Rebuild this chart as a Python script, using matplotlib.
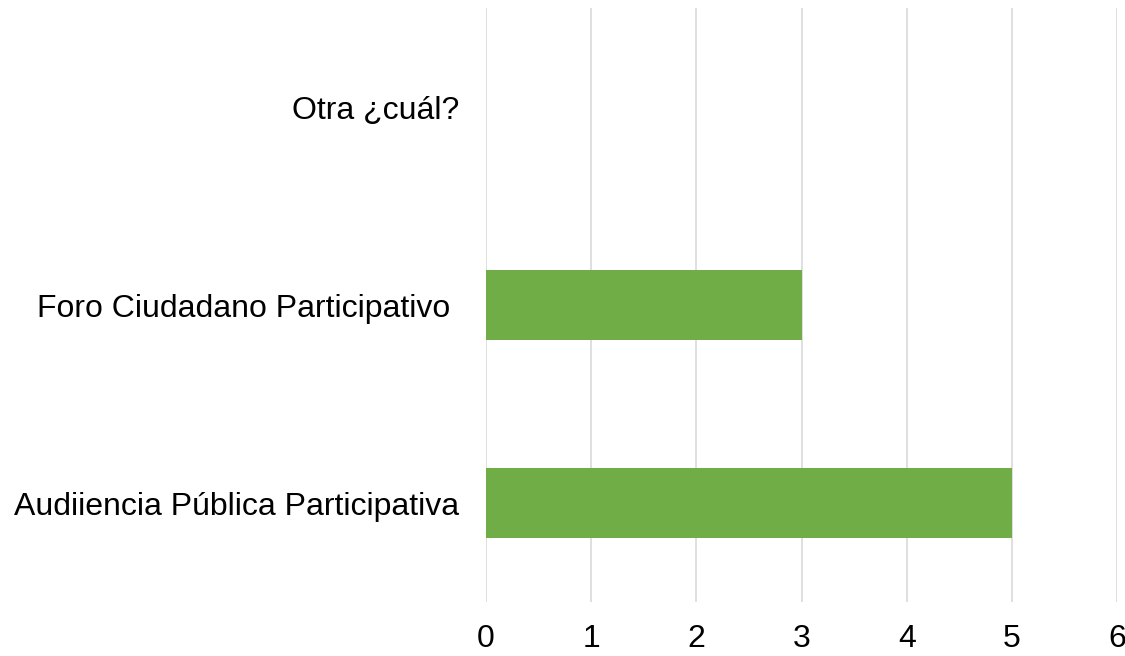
import matplotlib.pyplot as plt

categories = ["Audiiencia Pública Participativa", "Foro Ciudadano Participativo ", "Otra ¿cuál?"]
values = [5, 3, 0]
ticks = [0, 1, 2, 3, 4, 5, 6]

plt.rcParams['font.family'] = ['Liberation Sans', 'DejaVu Sans']

fig = plt.figure(figsize=(11.25, 6.56), dpi=100)
ax = fig.add_axes([0.432, 0.0823, 0.561, 0.9055])

ax.barh(categories, values, height=0.355, color="#70ad47", zorder=3)
ax.set_xlim(0, 6)
ax.set_ylim(-0.5, 2.5)
ax.set_xticks(ticks)
ax.grid(axis="x", color="#d9d9d9", linewidth=1.2, zorder=0)
for s in ax.spines.values():
    s.set_visible(False)
ax.tick_params(axis="both", length=0, labelsize=23)
ax.tick_params(axis="y", pad=19)
ax.tick_params(axis="x", pad=16)

fig.savefig("out.png")
